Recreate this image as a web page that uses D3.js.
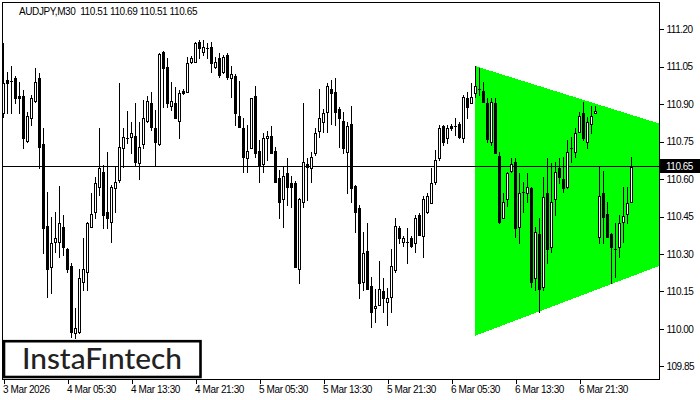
<!DOCTYPE html>
<html><head><meta charset="utf-8">
<script src="https://cdn.jsdelivr.net/npm/d3@7"></script>
<style>
html,body{margin:0;padding:0;background:#fff;}
svg{display:block;font-family:Tahoma,"Liberation Sans",Arial,sans-serif;}
</style></head>
<body>
<svg id="chart" width="700" height="400"></svg>
<script>
const symbolTitle = "AUDJPY,M30  110.51 110.69 110.51 110.65";
const lastPrice = 110.65;
const open = [
110.864,110.997,110.993,111.005,110.932,110.932,110.752,110.844,110.912,111.005,
110.740,110.412,110.247,110.348,110.348,110.408,110.320,110.251,109.983,109.987,
110.187,110.227,110.408,110.468,110.568,110.628,110.468,110.428,110.564,110.596,
110.724,110.764,110.768,110.772,110.664,110.740,110.832,110.904,110.804,110.740,
111.109,111.049,110.892,110.904,110.832,110.952,110.948,111.069,111.069,111.149,
111.109,111.125,111.129,111.049,111.085,111.029,111.097,111.005,111.013,110.852,
110.804,110.684,110.724,110.932,110.712,110.660,110.764,110.772,110.712,110.604,
110.520,110.624,110.584,110.584,110.239,110.508,110.660,110.644,110.704,110.792,
110.828,110.868,110.960,110.948,110.880,110.832,110.708,110.820,110.572,110.484,
110.187,110.311,110.171,110.083,110.095,110.151,110.107,110.127,110.235,110.404,
110.348,110.348,110.364,110.344,110.456,110.372,110.468,110.504,110.588,110.684,
110.812,110.764,110.812,110.812,110.820,110.764,110.924,110.904,110.944,110.960,
110.952,110.904,110.748,110.904,110.692,110.444,110.520,110.632,110.668,110.408,
110.548,110.544,110.564,110.203,110.380,110.167,110.544,110.328,110.520,110.644,
110.600,110.568,110.724,110.708,110.788,110.864,110.748,110.820,110.864,110.368,
110.544,110.460,110.380,110.320,110.328,110.428,110.460,110.51];
const high = [
111.145,111.029,111.053,111.013,110.989,110.956,110.868,110.936,111.045,111.025,
110.804,110.548,110.448,110.468,110.572,110.456,110.324,110.263,110.083,110.239,
110.364,110.428,110.544,110.608,110.804,110.656,110.708,110.576,110.648,110.985,
110.804,110.872,110.828,110.904,110.828,110.916,110.932,110.948,110.876,111.105,
111.113,111.085,110.989,110.968,110.956,110.960,111.089,111.093,111.149,111.157,
111.157,111.145,111.149,111.089,111.105,111.097,111.105,111.053,111.021,110.993,
110.844,110.816,110.924,110.972,110.756,110.784,110.792,110.812,110.728,110.636,
110.652,110.684,110.612,110.592,110.524,110.904,110.684,110.708,110.804,110.960,
110.880,110.985,110.997,111.005,110.888,110.868,110.828,110.892,110.576,110.496,
110.388,110.424,110.207,110.159,110.271,110.203,110.163,110.320,110.444,110.412,
110.372,110.404,110.372,110.456,110.464,110.532,110.544,110.644,110.716,110.816,
110.816,110.816,110.820,110.844,110.828,110.936,110.948,110.985,111.053,111.045,
110.989,110.924,110.924,110.924,110.708,110.544,110.628,110.684,110.684,110.624,
110.588,110.624,110.568,110.408,110.444,110.608,110.684,110.664,110.668,110.684,
110.688,110.756,110.768,110.804,110.868,110.908,110.848,110.892,110.892,110.652,
110.632,110.508,110.384,110.424,110.456,110.568,110.568,110.69];
const low = [
110.848,110.864,110.864,110.904,110.864,110.724,110.748,110.816,110.908,110.644,
110.303,110.127,110.143,110.307,110.287,110.295,110.227,109.967,109.963,109.983,
110.155,110.155,110.408,110.444,110.536,110.404,110.404,110.348,110.468,110.588,
110.648,110.744,110.704,110.656,110.600,110.724,110.828,110.796,110.652,110.736,
110.888,110.888,110.876,110.844,110.764,110.940,110.948,111.065,111.069,111.085,
111.097,111.085,111.029,111.045,111.009,111.025,111.001,110.928,110.816,110.808,
110.628,110.628,110.724,110.688,110.588,110.628,110.676,110.704,110.588,110.444,
110.408,110.496,110.488,110.247,110.183,110.488,110.516,110.588,110.696,110.768,
110.788,110.788,110.820,110.816,110.728,110.704,110.544,110.508,110.388,110.123,
110.155,110.159,110.007,110.027,110.095,110.067,110.015,110.067,110.227,110.344,
110.332,110.263,110.328,110.307,110.376,110.287,110.464,110.504,110.580,110.676,
110.736,110.744,110.796,110.776,110.764,110.748,110.844,110.904,110.928,110.936,
110.908,110.748,110.736,110.704,110.424,110.444,110.492,110.628,110.368,110.344,
110.468,110.508,110.167,110.155,110.067,110.155,110.263,110.307,110.456,110.584,
110.548,110.564,110.668,110.688,110.788,110.756,110.724,110.784,110.864,110.344,
110.344,110.368,110.183,110.207,110.287,110.348,110.424,110.51];
const close = [
110.985,110.985,110.989,110.924,110.924,110.764,110.852,110.924,110.989,110.728,
110.404,110.239,110.344,110.364,110.424,110.328,110.239,109.987,110.003,110.203,
110.239,110.424,110.460,110.584,110.644,110.456,110.444,110.568,110.588,110.728,
110.768,110.766,110.784,110.668,110.728,110.844,110.912,110.808,110.748,111.101,
111.045,110.904,110.912,110.844,110.944,110.944,111.065,111.085,111.145,111.125,
111.129,111.123,111.065,111.069,111.017,111.089,111.009,111.021,110.864,110.808,
110.688,110.712,110.924,110.704,110.652,110.764,110.772,110.704,110.588,110.508,
110.612,110.568,110.568,110.247,110.520,110.668,110.648,110.688,110.784,110.844,
110.864,110.972,110.944,110.868,110.844,110.724,110.812,110.564,110.468,110.183,
110.303,110.159,110.067,110.091,110.159,110.123,110.123,110.251,110.412,110.364,
110.364,110.347,110.332,110.444,110.376,110.520,110.532,110.584,110.676,110.804,
110.748,110.804,110.804,110.810,110.768,110.928,110.888,110.928,110.972,110.958,
110.908,110.760,110.908,110.704,110.428,110.508,110.624,110.660,110.404,110.544,
110.546,110.568,110.187,110.388,110.159,110.528,110.320,110.508,110.628,110.608,
110.564,110.708,110.722,110.784,110.852,110.764,110.828,110.852,110.872,110.532,
110.448,110.368,110.328,110.318,110.424,110.452,110.504,110.65];
const yTicks = [109.85,110.00,110.15,110.30,110.45,110.60,110.75,110.90,111.05,111.20];
const xTickIdx = [0,16,32,48,64,80,96,112,128,144];
const xTickLabels = ["3 Mar 2026","4 Mar 05:30","4 Mar 13:30","4 Mar 21:30","5 Mar 05:30","5 Mar 13:30","5 Mar 21:30","6 Mar 05:30","6 Mar 13:30","6 Mar 21:30"];
const triIdx = [118, 118, 215.5];
const triPrice = [111.053, 109.972, 110.565];

const svg = d3.select("#chart");
const L = 2, T = 2, R = 659, B = 379;
const x = d3.scaleLinear().domain([0,164]).range([3,659]);
const y = d3.scaleLinear().domain([109.799,111.3095]).range([B,T]);

svg.append("defs").append("clipPath").attr("id","plot")
  .append("rect").attr("x",L+1).attr("y",T+1).attr("width",R-L-1).attr("height",B-T-1);

const plot = svg.append("g").attr("clip-path","url(#plot)");

// triangle
plot.append("polygon")
  .attr("points", triIdx.map((d,i)=>[x(d), y(triPrice[i])].join(",")).join(" "))
  .attr("fill","#00ff00").attr("shape-rendering","crispEdges");

// current price line
const ly = Math.floor(y(lastPrice)) + 0.5;
plot.append("line").attr("x1",L).attr("x2",R).attr("y1",ly).attr("y2",ly)
  .attr("stroke","#000").attr("stroke-width",1).attr("shape-rendering","crispEdges");

// candles
const data = open.map((o,i)=>({i, o, h:high[i], l:low[i], c:close[i]}));
const cg = plot.append("g").attr("shape-rendering","crispEdges");
data.forEach(d=>{
  const cx = Math.round(x(d.i));
  const yh = Math.round(y(d.h)), yl = Math.round(y(d.l));
  const yt = Math.round(y(Math.max(d.o,d.c))), yb = Math.round(y(Math.min(d.o,d.c)));
  cg.append("line").attr("x1",cx+0.5).attr("x2",cx+0.5).attr("y1",yh).attr("y2",yl+1)
    .attr("stroke","#000").attr("stroke-width",1);
  if (yb - yt < 2) {
    cg.append("rect").attr("x",cx-1).attr("y",yt).attr("width",3).attr("height",Math.max(1,yb-yt)).attr("fill","#000");
  } else if (d.c < d.o) {
    cg.append("rect").attr("x",cx-1).attr("y",yt).attr("width",3).attr("height",yb-yt+1).attr("fill","#000");
  } else {
    cg.append("rect").attr("x",cx-0.5).attr("y",yt+0.5).attr("width",2).attr("height",yb-yt)
      .attr("fill","#fff").attr("stroke","#000").attr("stroke-width",1);
  }
});

// frame
svg.append("rect").attr("x",L+0.5).attr("y",T+0.5).attr("width",R-L).attr("height",B-T)
  .attr("fill","none").attr("stroke","#000").attr("stroke-width",1).attr("shape-rendering","crispEdges");

// y axis
const yAxis = d3.axisRight(y).tickValues(yTicks).tickSize(4).tickPadding(3).tickFormat(d3.format(".2f"));
const gy = svg.append("g").attr("transform",`translate(${R+0.5},0)`).call(yAxis);
gy.select(".domain").remove();
gy.selectAll("line").attr("stroke","#000").attr("shape-rendering","crispEdges");
gy.selectAll("text").attr("font-size","10px").attr("fill","#000").attr("letter-spacing","-0.5px")
  .attr("font-family","Tahoma,'Liberation Sans',Arial,sans-serif");

// x axis
const xAxis = d3.axisBottom(x).tickValues(xTickIdx).tickSize(4).tickPadding(2)
  .tickFormat((d,i)=>xTickLabels[i]);
const gx = svg.append("g").attr("transform",`translate(0,${B+0.5})`).call(xAxis);
gx.select(".domain").remove();
gx.selectAll("line").attr("stroke","#000").attr("shape-rendering","crispEdges")
  .attr("transform","translate(0.5,0)");
gx.selectAll("text").attr("text-anchor","start").attr("dx","-0.5").attr("font-size","10px")
  .attr("fill","#000").attr("letter-spacing","-0.4px")
  .attr("font-family","Tahoma,'Liberation Sans',Arial,sans-serif");

// price label
svg.append("rect").attr("x",R+1).attr("y",Math.floor(y(lastPrice))-7).attr("width",40).attr("height",14).attr("fill","#000");
svg.append("text").attr("x",666).attr("y",y(lastPrice)).attr("dy","0.35em")
  .attr("font-size","10px").attr("letter-spacing","-0.5px").attr("fill","#fff").text(d3.format(".2f")(lastPrice));

// title
svg.append("text").attr("x",19).attr("y",15).attr("font-size","10px").attr("letter-spacing","-0.4px")
  .attr("fill","#000").attr("xml:space","preserve").style("white-space","pre").text(symbolTitle);

// logo
svg.append("rect").attr("x",4).attr("y",341.2).attr("width",196.5).attr("height",35.8)
  .attr("fill","#fff").attr("stroke","#000").attr("stroke-width",2.6);
svg.append("text").attr("x",22).attr("y",369).attr("font-family","Lato,'Open Sans',sans-serif")
  .attr("font-size","28px").attr("font-weight","500").attr("fill","#222")
  .attr("textLength",160).attr("lengthAdjust","spacingAndGlyphs").text("InstaFıntech");
</script>
</body></html>
